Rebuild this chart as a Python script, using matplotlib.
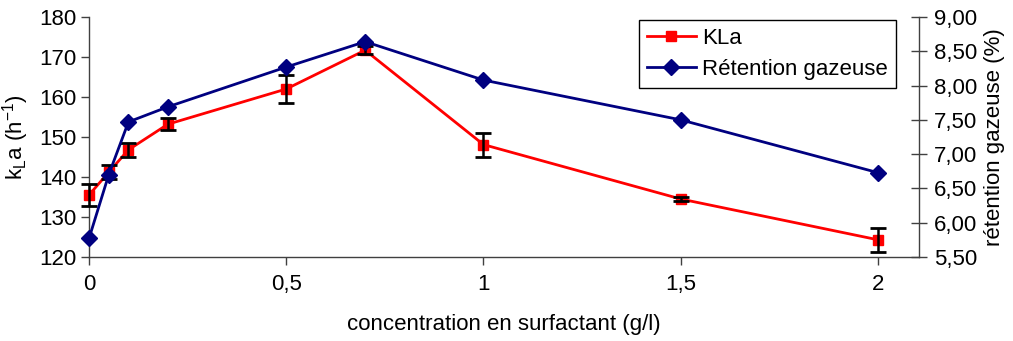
import matplotlib
matplotlib.use("Agg")
import matplotlib.pyplot as plt
from matplotlib.ticker import FuncFormatter

plt.rcParams['font.family'] = ['Liberation Sans', 'DejaVu Sans']

conc = [0, 0.05, 0.1, 0.2, 0.5, 0.7, 1.0, 1.5, 2.0]
kla = [135.5, 141.2, 146.8, 153.2, 162.0, 171.7, 148.1, 134.5, 124.3]
kla_err = [2.8, 1.8, 1.8, 1.5, 3.4, 1.0, 3.0, 0.6, 3.0]
retention = [5.77, 6.70, 7.47, 7.69, 8.27, 8.64, 8.08, 7.50, 6.73]

left_ticks = [120, 130, 140, 150, 160, 170, 180]
right_ticks = [5.5, 6.0, 6.5, 7.0, 7.5, 8.0, 8.5, 9.0]
x_ticks = [0, 0.5, 1, 1.5, 2]

fig = plt.figure(figsize=(10.13, 3.41), dpi=100)
ax1 = fig.add_axes([89/1013, 1-257/341, (919-89)/1013, (257-17)/341])
ax2 = ax1.twinx()

axis_color = '#404040'
fs = 16

l1, = ax1.plot(conc, kla, color='#ff0000', lw=2, marker='s', ms=7,
               mec='#ff0000', mfc='#ff0000', label='KLa', zorder=3, clip_on=False)
eb = ax1.errorbar(conc, kla, yerr=kla_err, fmt='none', ecolor='black',
                  elinewidth=1.8, capsize=5.5, capthick=2, zorder=4)
for art in list(eb.lines[1]) + list(eb.lines[2]):
    art.set_clip_on(False)
l2, = ax2.plot(conc, retention, color='#000080', lw=2, marker='D', ms=8,
               mec='#000080', mfc='#000080', label='Rétention gazeuse', zorder=3,
               clip_on=False)

ax1.set_xlim(0, 2.104)
ax1.set_ylim(120, 180)
ax2.set_ylim(5.5, 9.0)
ax1.set_xticks(x_ticks)
ax1.set_yticks(left_ticks)
ax2.set_yticks(right_ticks)

def fr_fmt(v, pos):
    s = ('%g' % v)
    return s.replace('.', ',')

ax1.xaxis.set_major_formatter(FuncFormatter(fr_fmt))
ax2.yaxis.set_major_formatter(FuncFormatter(lambda v, p: ('%.2f' % v).replace('.', ',')))

for ax in (ax1, ax2):
    ax.spines['top'].set_visible(False)
    for s in ax.spines.values():
        s.set_color(axis_color)
        s.set_linewidth(1.0)
ax1.spines['right'].set_visible(False)
ax2.spines['left'].set_visible(False)
ax2.spines['bottom'].set_visible(False)

ax1.tick_params(axis='y', direction='out', length=6, width=1, color=axis_color,
                labelsize=fs, pad=3)
ax1.tick_params(axis='x', direction='out', length=6, width=1, color=axis_color,
                labelsize=fs, pad=6)
ax2.tick_params(axis='y', direction='inout', length=12, width=1, color=axis_color,
                labelsize=fs, pad=5)

ax1.set_ylabel('k$_\\mathregular{L}$a (h$^\\mathregular{-1}$)', fontsize=fs, labelpad=6)
ax2.set_ylabel('rétention gazeuse (%)', fontsize=fs, labelpad=5)
ax1.set_xlabel('concentration en surfactant (g/l)', fontsize=fs, labelpad=14)

leg = ax2.legend(handles=[l1, l2], loc='upper right',
                 bbox_to_anchor=(896/1013, 1-20/341), bbox_transform=fig.transFigure,
                 borderaxespad=0, fontsize=fs, fancybox=False, framealpha=1,
                 edgecolor='black', handlelength=2.2, handletextpad=0.3,
                 borderpad=0.35, labelspacing=0.45)
leg.get_frame().set_linewidth(1.0)

fig.savefig('out.png', dpi=100)
